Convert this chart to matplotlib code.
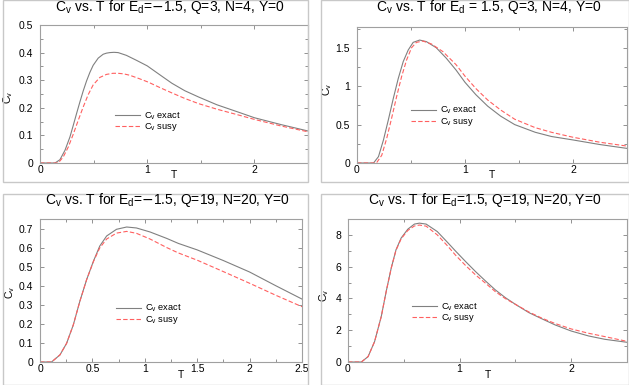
import matplotlib
matplotlib.use("Agg")
import matplotlib.pyplot as plt
from matplotlib.ticker import MultipleLocator, FuncFormatter
from matplotlib.patches import Rectangle

plt.rcParams['font.family'] = ['Liberation Sans', 'DejaVu Sans']

# ---- data ----
# Panel 1: Ed=-1.5, Q=3, N=4
t1_exact = [0.0, 0.14, 0.186, 0.233, 0.279, 0.31, 0.341, 0.372, 0.403, 0.434, 0.465, 0.496, 0.543, 0.589, 0.62, 0.651, 0.69, 0.729, 0.806, 0.90, 1.0, 1.12, 1.23, 1.35, 1.48, 1.65, 1.86, 2.0, 2.25, 2.5]
c1_exact = [0.0, 0.0, 0.012, 0.046, 0.094, 0.136, 0.179, 0.221, 0.261, 0.297, 0.328, 0.354, 0.38, 0.394, 0.398, 0.4, 0.401, 0.4, 0.39, 0.372, 0.352, 0.319, 0.289, 0.262, 0.239, 0.211, 0.183, 0.164, 0.139, 0.116]
t1_susy = [0.0, 0.17, 0.217, 0.264, 0.31, 0.357, 0.403, 0.45, 0.496, 0.558, 0.62, 0.68, 0.729, 0.78, 0.837, 0.93, 1.01, 1.12, 1.23, 1.35, 1.48, 1.65, 1.86, 2.0, 2.25, 2.5]
c1_susy = [0.0, 0.0, 0.022, 0.058, 0.104, 0.155, 0.203, 0.248, 0.283, 0.31, 0.321, 0.325, 0.325, 0.323, 0.318, 0.305, 0.293, 0.273, 0.254, 0.234, 0.215, 0.195, 0.173, 0.158, 0.134, 0.113]

# Panel 2: Ed=1.5, Q=3, N=4
t2_exact = [0.0, 0.153, 0.199, 0.245, 0.29, 0.336, 0.382, 0.428, 0.474, 0.52, 0.58, 0.642, 0.734, 0.826, 0.917, 1.0, 1.10, 1.21, 1.33, 1.46, 1.65, 1.80, 2.0, 2.25, 2.5]
c2_exact = [0.0, 0.0, 0.083, 0.30, 0.56, 0.84, 1.10, 1.32, 1.47, 1.57, 1.60, 1.58, 1.50, 1.365, 1.21, 1.05, 0.89, 0.74, 0.61, 0.50, 0.40, 0.345, 0.30, 0.24, 0.19]
t2_susy = [0.0, 0.18, 0.229, 0.275, 0.32, 0.367, 0.413, 0.459, 0.505, 0.55, 0.61, 0.688, 0.795, 0.917, 1.0, 1.10, 1.21, 1.33, 1.46, 1.65, 1.80, 2.0, 2.25, 2.5]
c2_susy = [0.0, 0.0, 0.10, 0.32, 0.58, 0.865, 1.125, 1.34, 1.50, 1.57, 1.587, 1.55, 1.45, 1.28, 1.13, 0.97, 0.82, 0.69, 0.57, 0.46, 0.40, 0.335, 0.27, 0.22]

# Panel 3: Ed=-1.5, Q=19, N=20
t3_exact = [0.0, 0.11, 0.19, 0.254, 0.318, 0.38, 0.445, 0.51, 0.57, 0.636, 0.73, 0.827, 0.92, 1.05, 1.21, 1.32, 1.5, 1.75, 2.0, 2.25, 2.5]
c3_exact = [0.0, 0.0, 0.037, 0.098, 0.195, 0.318, 0.432, 0.529, 0.608, 0.661, 0.696, 0.708, 0.703, 0.682, 0.648, 0.622, 0.588, 0.532, 0.472, 0.40, 0.33]
t3_susy = [0.0, 0.11, 0.19, 0.254, 0.318, 0.38, 0.445, 0.51, 0.57, 0.636, 0.73, 0.827, 0.92, 1.05, 1.21, 1.32, 1.5, 1.75, 2.0, 2.25, 2.5]
c3_susy = [0.0, 0.0, 0.037, 0.098, 0.195, 0.318, 0.432, 0.527, 0.598, 0.645, 0.676, 0.685, 0.675, 0.645, 0.60, 0.572, 0.534, 0.474, 0.413, 0.35, 0.29]

# Panel 4: Ed=1.5, Q=19, N=20
t4_exact = [0.0, 0.12, 0.18, 0.238, 0.298, 0.342, 0.387, 0.43, 0.476, 0.536, 0.595, 0.64, 0.70, 0.80, 0.893, 0.964, 1.054, 1.143, 1.232, 1.32, 1.41, 1.5, 1.62, 1.74, 1.857, 2.0, 2.155, 2.3, 2.5]
c4_exact = [0.0, 0.0, 0.34, 1.28, 2.86, 4.43, 5.9, 7.06, 7.8, 8.36, 8.68, 8.74, 8.68, 8.21, 7.52, 6.98, 6.32, 5.69, 5.1, 4.54, 4.05, 3.63, 3.11, 2.71, 2.33, 1.95, 1.64, 1.43, 1.24]
t4_susy = [0.0, 0.12, 0.18, 0.238, 0.298, 0.342, 0.387, 0.43, 0.476, 0.536, 0.595, 0.64, 0.70, 0.80, 0.893, 0.964, 1.054, 1.143, 1.232, 1.32, 1.41, 1.5, 1.62, 1.74, 1.857, 2.0, 2.155, 2.3, 2.5]
c4_susy = [0.0, 0.0, 0.34, 1.28, 2.86, 4.43, 5.9, 7.03, 7.75, 8.28, 8.56, 8.62, 8.55, 8.0, 7.3, 6.72, 6.07, 5.48, 4.96, 4.43, 3.99, 3.63, 3.15, 2.75, 2.42, 2.08, 1.81, 1.60, 1.30]

titles = [r"C$_\mathregular{v}$ vs. T for E$_\mathregular{d}$=$-$1.5, Q=3, N=4, Y=0",
          r"C$_\mathregular{v}$ vs. T for E$_\mathregular{d}$ = 1.5, Q=3, N=4, Y=0",
          r"C$_\mathregular{v}$ vs. T for E$_\mathregular{d}$=$-$1.5, Q=19, N=20, Y=0",
          r"C$_\mathregular{v}$ vs. T for E$_\mathregular{d}$=1.5, Q=19, N=20, Y=0"]
label_exact = r"C$_\mathregular{v}$ exact"
label_susy = r"C$_\mathregular{v}$ susy"

W, H = 629, 385
fig = plt.figure(figsize=(W / 100, H / 100), dpi=100)


def fx(px):
    return px / W


def fy(py):
    return 1 - py / H


# panel frames (pixel boxes)
frames = [(3, 0, 308, 182), (321, 0, 629, 182), (3, 194, 308, 385), (321, 194, 629, 385)]
for (x0, y0, x1, y1) in frames:
    fig.patches.append(Rectangle((fx(x0), fy(y1)), fx(x1) - fx(x0), fy(y0) - fy(y1),
                                 transform=fig.transFigure, fill=False,
                                 edgecolor='#c8c8c8', linewidth=1.0))

# axes boxes (left, top, right, bottom) in pixels
boxes = [(40, 25, 308, 163), (357, 27, 627, 163), (40, 219, 302, 362), (348, 219, 627, 362)]
ylims = [(0, 0.5), (0, 1.77), (0, 0.75), (0, 9.0)]
ymaj = [0.1, 0.5, 0.1, 2]
ymin = [0.05, 0.25, 0.1, 1]
xmaj = [1, 1, 0.5, 1]
xmin = [0.5, 0.5, 0.25, 0.5]
legpos = [(0.28, 0.30), (0.20, 0.342), (0.29, 0.333), (0.23, 0.346)]
title_pos = [(170, 11.5), (489, 11.5), (167, 204), (485, 204)]
ylab_x = [8, 327, 10, 324]
ylab_y = [97, 89, 292, 295]
xlab_x = [174, 492, 181, 488]
xlab_y = [175, 175, 374.5, 374.5]
data = [(t1_exact, c1_exact, t1_susy, c1_susy),
        (t2_exact, c2_exact, t2_susy, c2_susy),
        (t3_exact, c3_exact, t3_susy, c3_susy),
        (t4_exact, c4_exact, t4_susy, c4_susy)]

fmt = FuncFormatter(lambda v, p: '%g' % round(v, 6))

for i in range(4):
    l, t, r, b = boxes[i]
    ax = fig.add_axes([fx(l), fy(b), fx(r) - fx(l), fy(t) - fy(b)])
    te, ce, ts, cs = data[i]
    ax.plot(te, ce, color='#808080', lw=0.8, label=label_exact)
    ax.plot(ts, cs, color='#ff6060', lw=0.8, ls=(0, (4, 2)), label=label_susy)
    ax.set_xlim(0, 2.5)
    ax.set_ylim(*ylims[i])
    ax.xaxis.set_major_locator(MultipleLocator(xmaj[i]))
    ax.xaxis.set_minor_locator(MultipleLocator(xmin[i]))
    ax.yaxis.set_major_locator(MultipleLocator(ymaj[i]))
    ax.yaxis.set_minor_locator(MultipleLocator(ymin[i]))
    ax.tick_params(which='both', direction='in', top=True, right=True,
                   color='#808080', width=0.6, labelsize=7.5)
    ax.tick_params(axis='y', which='major', pad=5)
    ax.tick_params(axis='x', which='major', pad=1.5)
    ax.tick_params(which='major', length=3)
    ax.tick_params(which='minor', length=2)
    ax.xaxis.set_major_formatter(fmt)
    ax.yaxis.set_major_formatter(fmt)
    for s in ax.spines.values():
        s.set_color('#a0a0a0')
        s.set_linewidth(0.8)
    ax.set_xlabel('T', fontsize=7.5)
    ax.xaxis.label.set_verticalalignment('center')
    ax.xaxis.set_label_coords((xlab_x[i] - l) / (r - l), (b - xlab_y[i]) / (b - t))
    ax.set_ylabel(r"C$_\mathregular{v}$", fontsize=7.5)
    ax.yaxis.label.set_verticalalignment('center')
    ax.yaxis.set_label_coords((ylab_x[i] - l) / (r - l), (b - ylab_y[i]) / (b - t))
    tx, ty = title_pos[i]
    fig.text(fx(tx), fy(ty), titles[i], fontsize=10, ha='center', va='baseline')
    ax.legend(loc='center left', bbox_to_anchor=legpos[i], frameon=False,
              fontsize=6.7, handlelength=2.7, handletextpad=0.4, labelspacing=-0.05,
              borderaxespad=0, borderpad=0)

fig.savefig('out.png', dpi=100)
